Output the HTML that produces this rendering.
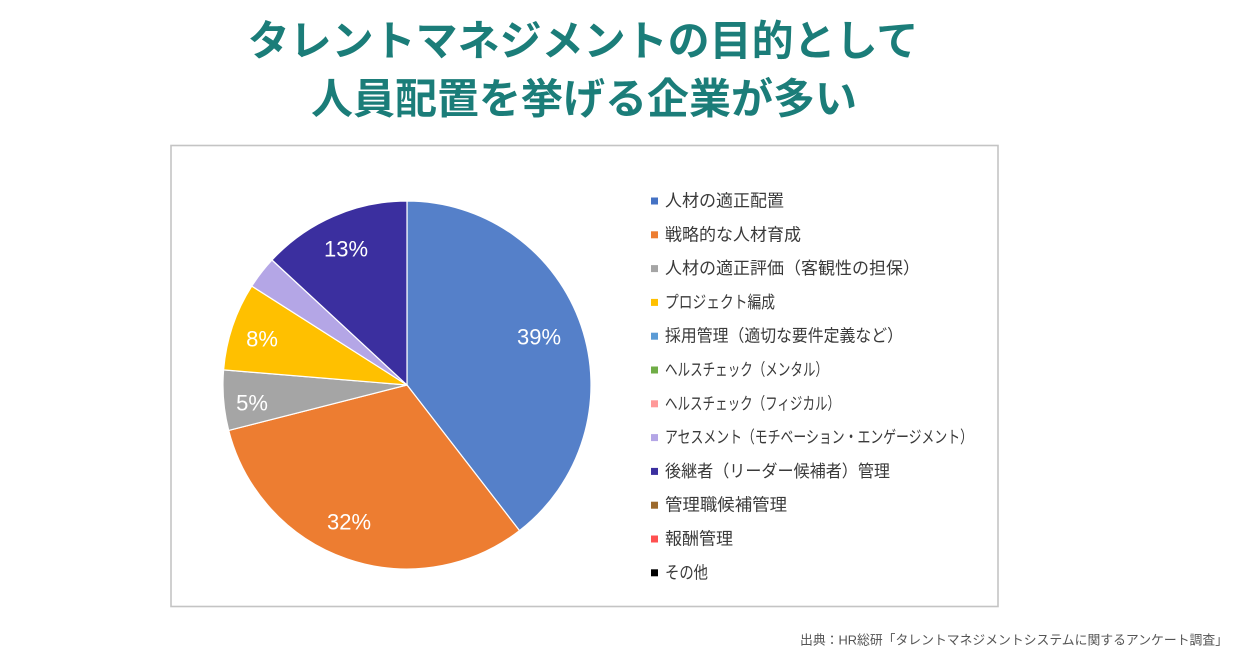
<!DOCTYPE html>
<html><head><meta charset="utf-8">
<style>
html,body{margin:0;padding:0;background:#fff;}
svg{display:block;}
text{font-family:"Liberation Sans","Noto Sans CJK JP",sans-serif;}
</style></head>
<body>
<svg width="1237" height="658" viewBox="0 0 1237 658" xmlns="http://www.w3.org/2000/svg">
<rect width="1237" height="658" fill="#fff"/>
<g font-weight="bold" fill="#1b7d79" font-size="42" text-anchor="middle" dominant-baseline="central">
<text x="583" y="41">タレントマネジメントの目的として</text>
<text x="584" y="99">人員配置を挙げる企業が多い</text>
</g>
<rect x="171" y="145.5" width="827" height="461" fill="#fff" stroke="#c4c4c4" stroke-width="1.6"/>
<g stroke="#fff" stroke-width="1.2" stroke-linejoin="round">
<path d="M407,385 L407,201 A184,184 0 0 1 519.5,530.6 Z" fill="#5580c9"/>
<path d="M407,385 L519.5,530.6 A184,184 0 0 1 228.7,430.4 Z" fill="#ed7d31"/>
<path d="M407,385 L228.7,430.4 A184,184 0 0 1 223.6,369.9 Z" fill="#a5a5a5"/>
<path d="M407,385 L223.6,369.9 A184,184 0 0 1 251.8,286.1 Z" fill="#ffc000"/>
<path d="M407,385 L251.8,286.1 A184,184 0 0 1 272.0,260.0 Z" fill="#b4a6e6"/>
<path d="M407,385 L272.0,260.0 A184,184 0 0 1 407,201 Z" fill="#3b2f9f"/>
</g>
<g fill="#fff" font-size="22" text-anchor="middle" dominant-baseline="central">
<text x="539" y="337">39%</text>
<text x="349" y="522">32%</text>
<text x="252" y="403">5%</text>
<text x="262" y="339">8%</text>
<text x="346" y="249">13%</text>
</g>
<g font-size="17" fill="#3a3a3a" dominant-baseline="central">
<rect x="651" y="197.5" width="7" height="7" fill="#4472c4"/><text x="665" y="201">人材の適正配置</text>
<rect x="651" y="231.3" width="7" height="7" fill="#ed7d31"/><text x="665" y="234.8">戦略的な人材育成</text>
<rect x="651" y="265.1" width="7" height="7" fill="#a5a5a5"/><text x="665" y="268.6">人材の適正評価（客観性の担保）</text>
<rect x="651" y="298.9" width="7" height="7" fill="#ffc000"/><text x="665" y="302.4" textLength="110" lengthAdjust="spacingAndGlyphs">プロジェクト編成</text>
<rect x="651" y="332.7" width="7" height="7" fill="#5b9bd5"/><text x="665" y="336.2" textLength="238" lengthAdjust="spacingAndGlyphs">採用管理（適切な要件定義など）</text>
<rect x="651" y="366.5" width="7" height="7" fill="#70ad47"/><text x="665" y="370" textLength="163" lengthAdjust="spacingAndGlyphs">ヘルスチェック（メンタル）</text>
<rect x="651" y="400.3" width="7" height="7" fill="#ff9999"/><text x="665" y="403.8" textLength="175" lengthAdjust="spacingAndGlyphs">ヘルスチェック（フィジカル）</text>
<rect x="651" y="434.1" width="7" height="7" fill="#b4a6e6"/><text x="665" y="437.6" textLength="308" lengthAdjust="spacingAndGlyphs">アセスメント（モチベーション・エンゲージメント）</text>
<rect x="651" y="467.9" width="7" height="7" fill="#3b2f9f"/><text x="665" y="471.4" textLength="225" lengthAdjust="spacingAndGlyphs">後継者（リーダー候補者）管理</text>
<rect x="651" y="501.7" width="7" height="7" fill="#9c6a2c"/><text x="665" y="505.2" textLength="122" lengthAdjust="spacingAndGlyphs">管理職候補管理</text>
<rect x="651" y="535.5" width="7" height="7" fill="#ff5050"/><text x="665" y="539">報酬管理</text>
<rect x="651" y="569.3" width="7" height="7" fill="#000"/><text x="665" y="572.8" textLength="43" lengthAdjust="spacingAndGlyphs">その他</text>
</g>
<text x="1228" y="640" font-size="13" fill="#555" text-anchor="end" dominant-baseline="central" textLength="428" lengthAdjust="spacingAndGlyphs">出典：HR総研「タレントマネジメントシステムに関するアンケート調査」</text>
</svg>
</body></html>
